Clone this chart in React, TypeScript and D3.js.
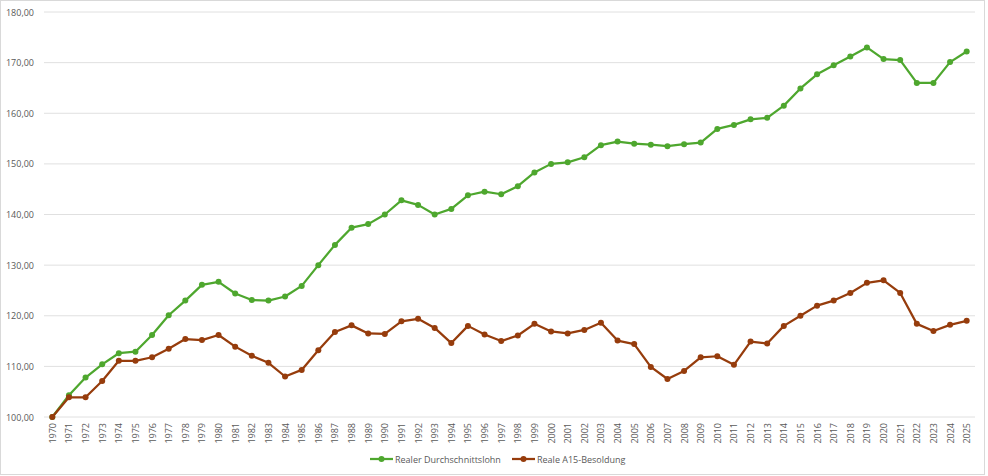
import { useEffect, useRef } from "react";
import * as d3 from "d3";

// ---------------------------------------------------------------------------
// Data (index, 1970 = 100)
// ---------------------------------------------------------------------------

const YEARS = d3.range(1970, 2026).map(String);

const DURCHSCHNITTSLOHN = [
  100.0, 104.3, 107.8, 110.4, 112.6, 112.9, 116.2, 120.1, 123.0, 126.1,
  126.7, 124.4, 123.1, 123.0, 123.8, 125.9, 130.0, 134.0, 137.4, 138.1,
  140.0, 142.8, 141.9, 140.0, 141.1, 143.8, 144.5, 144.0, 145.6, 148.3,
  150.0, 150.3, 151.3, 153.7, 154.4, 154.0, 153.8, 153.5, 153.9, 154.2,
  156.9, 157.7, 158.8, 159.1, 161.5, 164.9, 167.7, 169.5, 171.2, 173.0,
  170.7, 170.5, 166.0, 166.0, 170.1, 172.2,
];

const A15_BESOLDUNG = [
  100.0, 103.9, 103.9, 107.1, 111.1, 111.1, 111.8, 113.5, 115.4, 115.2,
  116.2, 113.9, 112.1, 110.7, 108.0, 109.3, 113.2, 116.8, 118.1, 116.5,
  116.4, 118.9, 119.4, 117.6, 114.6, 118.0, 116.3, 115.0, 116.1, 118.4,
  116.9, 116.5, 117.2, 118.6, 115.1, 114.4, 109.9, 107.5, 109.1, 111.8,
  112.0, 110.3, 114.9, 114.5, 118.0, 120.0, 122.0, 123.0, 124.5, 126.5,
  127.0, 124.5, 118.4, 117.0, 118.2, 119.0,
];

const Y_TICKS = [100, 110, 120, 130, 140, 150, 160, 170, 180];

const SERIES = [
  { name: "Realer Durchschnittslohn", values: DURCHSCHNITTSLOHN, color: "#4ea72e" },
  { name: "Reale A15-Besoldung", values: A15_BESOLDUNG, color: "#963c0c" },
];

const WIDTH = 988;
const HEIGHT = 476;
const FONT = "'Open Sans', 'Liberation Sans', sans-serif";
const TEXT_COLOR = "#595959";

export default function App() {
  const svgRef = useRef<SVGSVGElement>(null);

  useEffect(() => {
    const svg = d3.select(svgRef.current);
    svg.selectAll("*").remove();

    const margin = { top: 12, right: 13, bottom: 59, left: 44 };

    // ---- Chart frame ----
    svg
      .append("rect")
      .attr("x", 0.5)
      .attr("y", 0.5)
      .attr("width", WIDTH - 4)
      .attr("height", HEIGHT - 2)
      .attr("fill", "#ffffff")
      .attr("stroke", "#d9d9d9")
      .attr("stroke-width", 1);

    const x = d3
      .scaleBand<string>()
      .domain(YEARS)
      .range([margin.left, WIDTH - margin.right]);

    const y = d3
      .scaleLinear()
      .domain([100, 180])
      .range([HEIGHT - margin.bottom, margin.top]);

    const fmt = (v: number) => v.toFixed(2).replace(".", ",");

    // ---- Gridlines + y labels ----
    const gy = svg.append("g");
    Y_TICKS.forEach((t) => {
      gy.append("line")
        .attr("x1", margin.left)
        .attr("x2", WIDTH - margin.right)
        .attr("y1", y(t))
        .attr("y2", y(t))
        .attr("stroke", "#e0e0e0")
        .attr("stroke-width", 1);
      gy.append("text")
        .attr("x", 34)
        .attr("y", y(t))
        .attr("text-anchor", "end")
        .attr("dominant-baseline", "central")
        .attr("fill", TEXT_COLOR)
        .attr("font-family", FONT)
        .attr("font-size", 9)
        .text(fmt(t));
    });

    // ---- x labels (rotated) ----
    const cx = (d: string) => (x(d) ?? 0) + x.bandwidth() / 2;
    const gx = svg.append("g");
    YEARS.forEach((yr) => {
      gx.append("text")
        .attr("transform", `translate(${cx(yr)},${HEIGHT - margin.bottom + 6}) rotate(-90)`)
        .attr("text-anchor", "end")
        .attr("dominant-baseline", "central")
        .attr("fill", TEXT_COLOR)
        .attr("font-family", FONT)
        .attr("font-size", 9)
        .text(yr);
    });

    // ---- Lines + markers ----
    SERIES.forEach((s) => {
      const line = d3
        .line<number>()
        .x((_d, i) => cx(YEARS[i]))
        .y((d) => y(d));

      svg
        .append("path")
        .attr("d", line(s.values))
        .attr("fill", "none")
        .attr("stroke", s.color)
        .attr("stroke-width", 2.25)
        .attr("stroke-linejoin", "round");

      svg
        .append("g")
        .selectAll("circle")
        .data(s.values)
        .join("circle")
        .attr("cx", (_d, i) => cx(YEARS[i]))
        .attr("cy", (d) => y(d))
        .attr("r", 3)
        .attr("fill", s.color);
    });

    // ---- Legend ----
    const legendY = 459;
    const legendX = [370, 512];
    SERIES.forEach((s, i) => {
      const lg = svg.append("g").attr("transform", `translate(${legendX[i]},${legendY})`);
      lg.append("line")
        .attr("x1", 0)
        .attr("x2", 23)
        .attr("stroke", s.color)
        .attr("stroke-width", 2.25);
      lg.append("circle").attr("cx", 11.5).attr("r", 3).attr("fill", s.color);
      lg.append("text")
        .attr("x", 25)
        .attr("dominant-baseline", "central")
        .attr("fill", TEXT_COLOR)
        .attr("font-family", FONT)
        .attr("font-size", 9)
        .text(s.name);
    });
  }, []);

  return (
    <svg
      ref={svgRef}
      width={WIDTH}
      height={HEIGHT}
      style={{ display: "block", position: "absolute", left: 0, top: 0 }}
    />
  );
}
